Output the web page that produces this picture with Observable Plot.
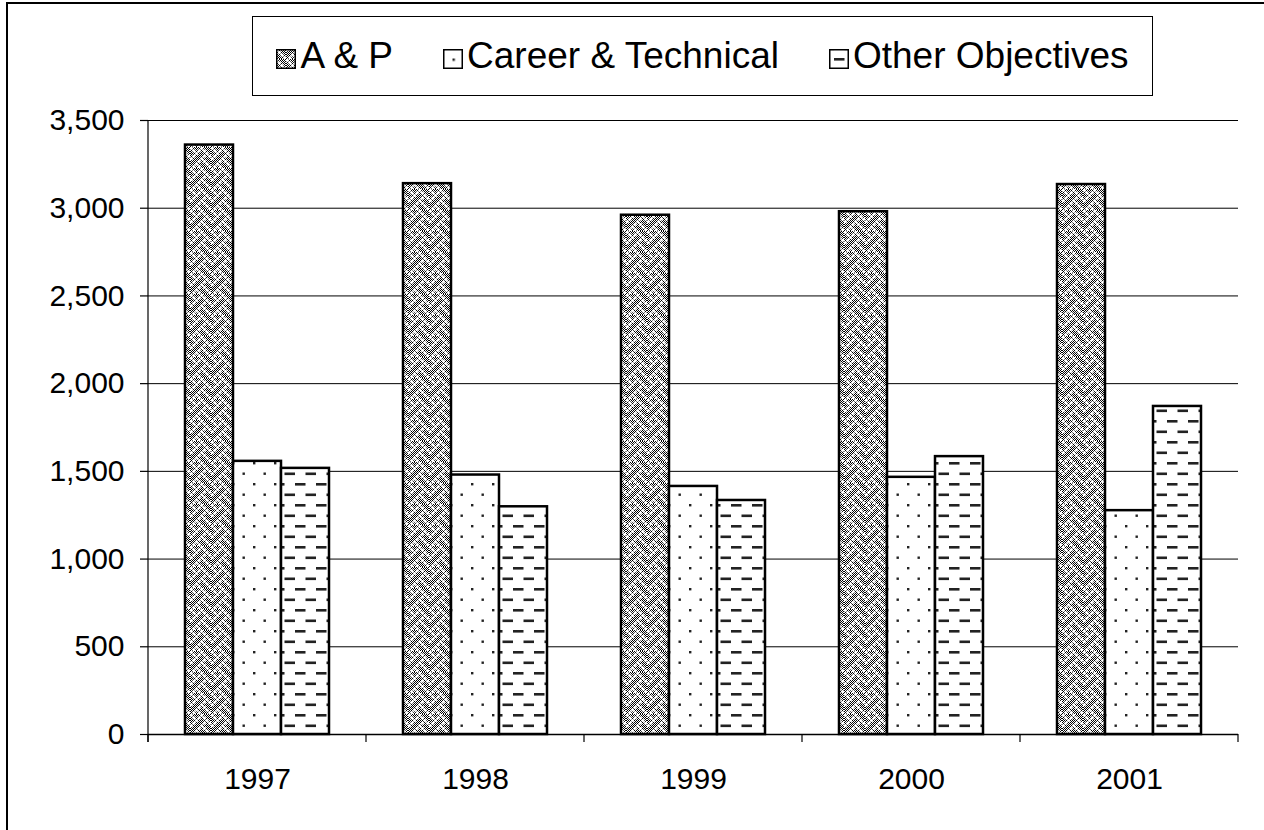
<!DOCTYPE html>
<html>
<head>
<meta charset="utf-8">
<script src="https://cdn.jsdelivr.net/npm/d3@7"></script>
<script src="https://cdn.jsdelivr.net/npm/@observablehq/plot@0.6"></script>
<style>
html, body { margin: 0; padding: 0; background: #fff; overflow: hidden; }
body { width: 1264px; height: 830px; position: relative; font-family: "Liberation Sans", Arial, sans-serif; color: #000; }
#frame { position: absolute; left: 6px; top: 2px; width: 1400px; height: 1000px; border: 2px solid #000; box-sizing: border-box; }
#chart { position: absolute; left: 0; top: 0; }
#legend { position: absolute; left: 252px; top: 16px; width: 901px; height: 80px; border: 1.5px solid #000; box-sizing: border-box;
  display: flex; align-items: center; justify-content: center; gap: 50px; font-size: 37px; background: #fff; z-index: 2; }
#legend .item { display: flex; align-items: center; }
#legend svg { margin-right: 4px; margin-top: 6px; }
</style>
</head>
<body>
<svg width="0" height="0" style="position:absolute">
  <defs id="defs">
    <pattern id="chk" width="2" height="2" patternUnits="userSpaceOnUse">
      <rect width="2" height="2" fill="#fff"/>
      <rect width="1" height="1" fill="#000"/>
      <rect x="1" y="1" width="1" height="1" fill="#000"/>
    </pattern>
    <pattern id="pat-ap" width="21" height="21" patternUnits="userSpaceOnUse">
      <rect width="21" height="21" fill="url(#chk)"/>
      <g id="weave" transform="scale(2.625)" fill="#fff"></g>
    </pattern>
    <pattern id="pat-ct" width="21" height="21" patternUnits="userSpaceOnUse">
      <rect width="21" height="21" fill="#fff"/>
      <rect x="0" y="0" width="2.4" height="2.4" fill="#222"/>
      <rect x="10.5" y="10.5" width="2.4" height="2.4" fill="#222"/>
    </pattern>
    <pattern id="pat-oo" width="21" height="21" patternUnits="userSpaceOnUse">
      <rect width="21" height="21" fill="#fff"/>
      <rect x="0" y="0" width="10.5" height="2.6" fill="#222"/>
      <rect x="10.5" y="10.5" width="10.5" height="2.6" fill="#222"/>
    </pattern>
  </defs>
</svg>
<div id="frame"></div>
<div id="chart"></div>
<div id="legend"></div>
<script>
// ---- data ----
const years = ["1997", "1998", "1999", "2000", "2001"];
const seriesNames = ["A & P", "Career & Technical", "Other Objectives"];
const apValues = [3360, 3140, 2960, 2980, 3135];
const careerValues = [1557, 1479, 1414, 1466, 1276];
const otherValues = [1517, 1298, 1334, 1584, 1870];
const yTicks = [0, 500, 1000, 1500, 2000, 2500, 3000, 3500];

const seriesValues = [apValues, careerValues, otherValues];
const patterns = ["url(#pat-ap)", "url(#pat-ct)", "url(#pat-oo)"];

const table = years.flatMap((yr, i) =>
  seriesNames.map((s, k) => ({year: yr, series: s, value: seriesValues[k][i]})));

// weave bitmap for the A & P fill
const weaveBits = [0x88, 0x54, 0x22, 0x45, 0x88, 0x14, 0x22, 0x51];
const wg = d3.select("#weave");
weaveBits.forEach((row, r) => {
  for (let c = 0; c < 8; c++) if (row & (0x80 >> c)) wg.append("rect").attr("x", c).attr("y", r).attr("width", 1).attr("height", 1);
});

const barMarks = seriesNames.map((s, k) =>
  Plot.barY(table.filter(d => d.series === s), {
    fx: "year", x: "series", y: "value",
    fill: patterns[k], stroke: "#000", strokeWidth: 2.5
  }));

const chart = Plot.plot({
  width: 1264,
  height: 830,
  marginTop: 120,
  marginBottom: 96,
  marginLeft: 147,
  marginRight: 26,
  style: {fontFamily: "'Liberation Sans', Arial, sans-serif", fontSize: "30px", color: "#000", background: "transparent", overflow: "visible"},
  fx: {domain: years, padding: 0, label: null},
  x: {domain: seriesNames, paddingInner: 0, paddingOuter: 0.74, axis: null},
  y: {domain: [0, 3500], label: null},
  marks: [
    Plot.gridY(yTicks.filter(t => t > 0), {stroke: "#000", strokeOpacity: 1, strokeWidth: 1}),
    ...barMarks,
    Plot.ruleY([0], {stroke: "#000", strokeWidth: 1.5}),
    Plot.axisY(yTicks, {tickFormat: d3.format(","), tickSize: 8, tickPadding: 16, fontSize: 30, label: null, strokeWidth: 1.2}),
    Plot.axisFx({anchor: "bottom", tickSize: 0, tickPadding: 33, fontSize: 30, label: null})
  ]
});
document.getElementById("chart").appendChild(chart);

// axis line and category boundary ticks, from Plot's own scales
const fxs = chart.scale("fx"), ys = chart.scale("y");
const y0 = ys.apply(0), yTop = ys.apply(3500);
const edges = years.map(yr => fxs.apply(yr)).concat([fxs.apply(years[years.length - 1]) + fxs.bandwidth]);
const deco = d3.select(chart).append("g").attr("stroke", "#000").attr("stroke-width", 1.2);
deco.append("line").attr("x1", edges[0]).attr("x2", edges[0]).attr("y1", yTop).attr("y2", y0 + 8);
edges.forEach(e => deco.append("line").attr("x1", e).attr("x2", e).attr("y1", y0).attr("y2", y0 + 8));

// legend
const legend = d3.select("#legend");
const swatchViews = ["-10 -10 20 20", "-9.5 -9.5 20 20", "-5 -9 20 20"];
seriesNames.forEach((s, k) => {
  const it = legend.append("div").attr("class", "item");
  const sv = it.append("svg").attr("width", 20).attr("height", 20).attr("viewBox", swatchViews[k]);
  const vb = swatchViews[k].split(" ").map(Number);
  sv.append("rect").attr("x", vb[0] + 0.75).attr("y", vb[1] + 0.75).attr("width", 18.5).attr("height", 18.5)
    .attr("fill", patterns[k]).attr("stroke", "#000").attr("stroke-width", 1.5);
  it.append("span").text(s);
});
</script>
</body>
</html>
